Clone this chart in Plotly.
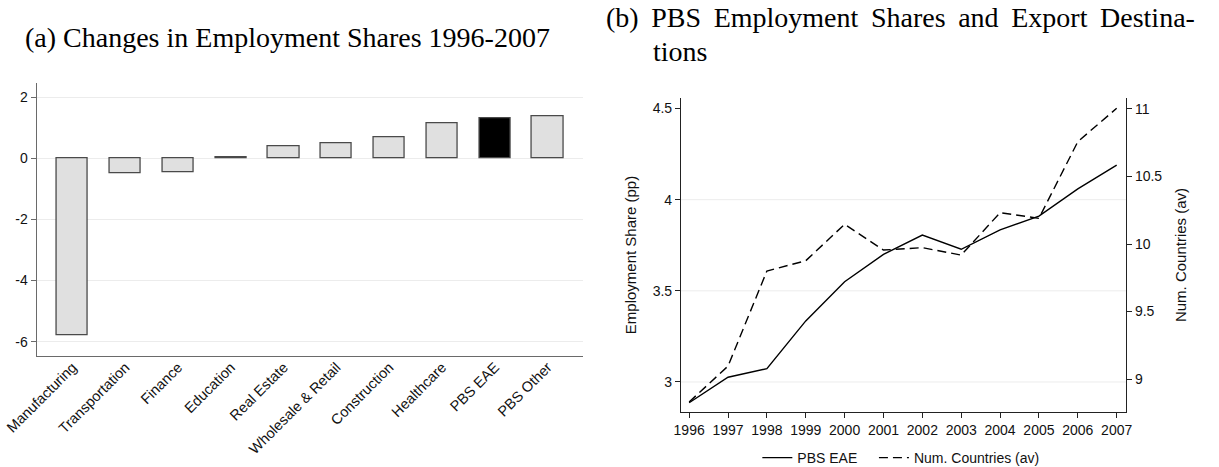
import plotly.graph_objects as go

# Panel (a): change in employment share by sector, 1996-2007 (pp)
sectors = ["Manufacturing", "Transportation", "Finance", "Education", "Real Estate",
           "Wholesale & Retail", "Construction", "Healthcare", "PBS EAE", "PBS Other"]
share_change = [-5.80, -0.50, -0.45, 0.04, 0.38, 0.48, 0.67, 1.15, 1.29, 1.37]
highlight = "PBS EAE"
share_ticks = [-6, -4, -2, 0, 2]

# Panel (b): PBS EAE employment share and average number of export destinations
years = [1996, 1997, 1998, 1999, 2000, 2001, 2002, 2003, 2004, 2005, 2006, 2007]
pbs_eae_share = [2.886, 3.026, 3.073, 3.335, 3.55, 3.70, 3.806, 3.728, 3.834, 3.91, 4.059, 4.19]
num_countries = [8.83, 9.096, 9.80, 9.876, 10.146, 9.955, 9.973, 9.918, 10.232, 10.19, 10.758, 11.005]
emp_ticks = [3, 3.5, 4, 4.5]
ctry_ticks = [9, 9.5, 10, 10.5, 11]

W, H = 1219, 467
SANS = "Liberation Sans, Arial, sans-serif"
SERIF = "Liberation Serif, Times New Roman, serif"
GRID = "#ececec"
NBSP = "\u00a0"
THIN = "\u2009"


def px_x(v):
    return v / W


def px_y(v):
    return 1 - v / H


def fmt(v):
    return f"{v:g}"


def justify(words, pad):
    # widen inter-word gaps so the caption line fills its measure
    return (" " + pad).join(words)


fig = go.Figure()

fig.add_trace(go.Bar(
    x=sectors, y=share_change, width=0.59,
    marker=dict(color=["#000000" if s == highlight else "#e0e0e0" for s in sectors],
                line=dict(color="#4a4a4a", width=1.3)),
    xaxis="x", yaxis="y", showlegend=False,
))

fig.add_trace(go.Scatter(
    x=years, y=pbs_eae_share, mode="lines", name="PBS EAE" + NBSP * 3,
    line=dict(color="#000000", width=1.4),
    xaxis="x2", yaxis="y2",
))
fig.add_trace(go.Scatter(
    x=years, y=num_countries, mode="lines", name="Num. Countries (av)",
    line=dict(color="#000000", width=1.4, dash="9px,5px"),
    xaxis="x2", yaxis="y3",
))

tickfont = dict(family=SANS, size=14, color="#111111")

fig.update_layout(
    width=W, height=H,
    margin=dict(l=0, r=0, t=0, b=0, autoexpand=False),
    paper_bgcolor="white", plot_bgcolor="white",
    bargap=0,
    xaxis=dict(
        domain=[px_x(36.7), px_x(583)], anchor="y", automargin=False,
        range=[-0.68, 9.67], showgrid=False, zeroline=False,
        showline=True, linecolor="#6a6a6a", linewidth=1.3,
        ticks="", tickangle=-45, ticklabelstandoff=-4,
        tickfont=dict(family=SANS, size=14.5, color="#111111"),
    ),
    yaxis=dict(
        domain=[px_y(356), px_y(83.3)], anchor="x", automargin=False,
        range=[-6.47, 2.45], tickvals=share_ticks, ticktext=[fmt(v) for v in share_ticks],
        showgrid=True, gridcolor=GRID, gridwidth=1,
        zeroline=True, zerolinecolor=GRID, zerolinewidth=1,
        showline=True, linecolor="#6a6a6a", linewidth=1.3,
        ticks="outside", ticklen=5, tickcolor="#6a6a6a", tickfont=tickfont,
    ),
    xaxis2=dict(
        domain=[px_x(681), px_x(1126)], anchor="y2", automargin=False,
        range=[1995.79, 2007.24], tickvals=years, ticktext=[str(y) for y in years],
        showgrid=False, zeroline=False,
        showline=True, linecolor="#222222", linewidth=1.2,
        ticks="outside", ticklen=5, tickcolor="#222222", tickfont=tickfont,
    ),
    yaxis2=dict(
        domain=[px_y(411.7), px_y(98.3)], anchor="x2", automargin=False,
        range=[2.837, 4.556], tickvals=emp_ticks, ticktext=[fmt(v) for v in emp_ticks],
        showgrid=False, zeroline=False,
        showline=True, linecolor="#222222", linewidth=1.2,
        ticks="outside", ticklen=5, tickcolor="#222222", tickfont=tickfont,
        title=dict(text="Employment Share (pp)", font=dict(family=SANS, size=15, color="#111111"),
                   standoff=12),
    ),
    yaxis3=dict(
        overlaying="y2", anchor="x2", side="right", automargin=False,
        range=[8.758, 11.079], tickvals=ctry_ticks, ticktext=[fmt(v) for v in ctry_ticks],
        showgrid=False, zeroline=False,
        showline=True, linecolor="#222222", linewidth=1.2,
        ticks="outside", ticklen=5, tickcolor="#222222", tickfont=tickfont,
        title=dict(text="Num. Countries (av)", font=dict(family=SANS, size=15, color="#111111"),
                   standoff=14),
    ),
    legend=dict(
        orientation="h", x=0.739, xanchor="center", y=px_y(458), yanchor="middle",
        font=dict(family=SANS, size=14, color="#111111"), bgcolor="rgba(0,0,0,0)",
        itemwidth=30,
    ),
)

# light horizontal grid for panel (b), drawn on the left-axis values
for g in emp_ticks[:-1]:
    fig.add_shape(type="line", xref="x2 domain", x0=0, x1=1, yref="y2", y0=g, y1=g,
                  line=dict(color=GRID, width=1), layer="below")

# panel captions
cap_font = dict(family=SERIF, size=28, color="#000000")
fig.add_annotation(text="(a) Changes in Employment Shares 1996-2007",
                   xref="paper", yref="paper", x=px_x(23), y=px_y(38),
                   xanchor="left", yanchor="middle", showarrow=False, font=cap_font)
fig.add_annotation(text=justify(["(b)", "PBS", "Employment", "Shares", "and", "Export", "Destina-"], THIN),
                   xref="paper", yref="paper", x=px_x(604), y=px_y(18),
                   xanchor="left", yanchor="middle", showarrow=False, font=cap_font)
fig.add_annotation(text="tions",
                   xref="paper", yref="paper", x=px_x(651), y=px_y(52),
                   xanchor="left", yanchor="middle", showarrow=False, font=cap_font)

fig.write_html("out.html")
